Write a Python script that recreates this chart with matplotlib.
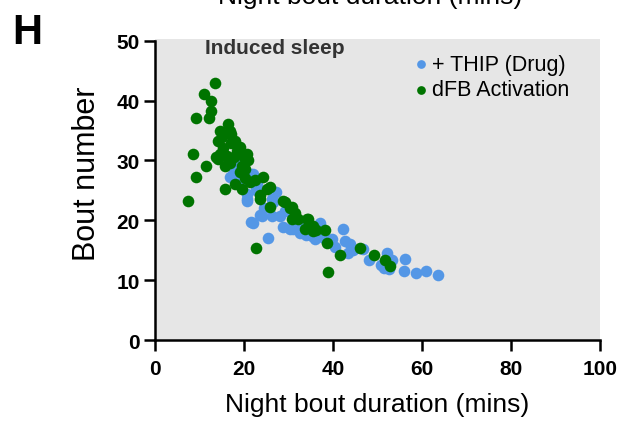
import matplotlib.pyplot as plt

plt.rcParams['font.family'] = ['Liberation Sans', 'DejaVu Sans']

# + THIP (Drug)
thip_x = [16.9, 17.5, 18.4, 18.0, 20.6, 20.6, 20.6, 21.7, 22.1, 22.8, 21.7, 22.0,
          24.0, 26.2, 23.6, 25.5, 26.2, 26.6, 27.3, 28.1, 28.8, 30.3, 31.0, 31.8,
          29.2, 33.3, 35.2, 36.0, 37.1, 39.7, 42.3, 42.7, 43.8, 43.4, 46.8, 48.2,
          50.9, 52.1, 53.2, 56.2, 55.9, 58.7, 61.0, 63.5, 26.6, 24.5, 34.0, 38.0,
          40.5, 19.5, 23.0, 51.5, 52.5, 32.5, 44.5]
thip_y = [27.2, 27.8, 29.4, 29.0, 24.4, 23.3, 23.6, 27.8, 27.8, 25.0, 19.7, 19.6,
          20.8, 20.8, 20.9, 17.0, 23.6, 23.0, 24.7, 20.8, 18.8, 18.5, 18.5, 18.5,
          21.6, 19.1, 17.4, 16.9, 19.6, 16.9, 18.6, 16.6, 16.1, 14.5, 15.2, 13.3,
          12.5, 14.6, 13.3, 13.6, 11.6, 11.2, 11.6, 10.9, 23.3, 22.0, 17.5, 17.0,
          15.5, 26.5, 26.0, 12.0, 11.8, 17.8, 15.0]

# dFB Activation
dfb_x = [7.5, 8.5, 9.2, 9.3, 11.0, 11.5, 12.2, 12.6, 12.7, 13.5, 14.6, 16.5,
         17.2, 16.9, 18.0, 14.2, 19.1, 14.6, 16.1, 20.6, 14.2, 21.0, 15.7, 19.5,
         19.1, 24.3, 21.3, 22.5, 25.8, 15.7, 19.5, 25.1, 23.6, 25.8, 29.2, 30.3,
         31.5, 30.9, 34.1, 33.7, 35.6, 22.7, 32.2, 34.5, 35.6, 36.3, 38.3, 38.6,
         39.0, 41.6, 46.1, 49.2, 51.7, 52.8, 23.6, 28.8, 30.7, 15.2, 17.8, 18.5,
         16.8, 20.0, 15.0, 13.8, 17.0, 20.3, 18.0, 20.2]
dfb_y = [23.2, 31.1, 37.1, 27.2, 41.1, 29.1, 37.1, 38.2, 40.0, 43.0, 35.0, 36.1,
         34.4, 35.0, 33.3, 33.3, 32.2, 31.1, 30.8, 31.1, 30.2, 30.0, 29.1, 29.1,
         28.0, 27.2, 26.4, 26.7, 25.5, 25.2, 25.2, 25.2, 23.6, 22.2, 23.1, 22.0,
         21.2, 20.2, 20.2, 18.5, 18.2, 15.3, 20.2, 20.3, 19.1, 18.3, 18.3, 16.2,
         11.3, 14.2, 15.3, 14.2, 13.3, 12.3, 24.2, 23.2, 22.2, 32.0, 30.5, 31.5,
         29.5, 30.5, 34.0, 30.5, 33.0, 28.5, 26.0, 27.0]

fig = plt.figure(figsize=(6.27, 4.27), dpi=100)
ax = fig.add_axes([0.247, 0.2014, 0.71, 0.705])
ax.set_facecolor('#e6e6e6')

ax.scatter(thip_x, thip_y, s=70, color='#5497e6', linewidths=0, label='+ THIP (Drug)')
ax.scatter(dfb_x, dfb_y, s=70, color='#007400', linewidths=0, label='dFB Activation')

ax.set_xlim(0, 100)
ax.set_ylim(0, 50.3)
ax.set_xticks(range(0, 101, 20))
ax.set_yticks(range(0, 51, 10))
for s in ['top', 'right']:
    ax.spines[s].set_visible(False)
for s in ['left', 'bottom']:
    ax.spines[s].set_linewidth(1.8)
ax.spines['left'].set_bounds(0, 50)
ax.tick_params(width=1.8, length=8, labelsize=15)
ax.tick_params(axis='x', pad=6)
ax.tick_params(axis='y', pad=3)
for lab in ax.get_xticklabels() + ax.get_yticklabels():
    lab.set_fontweight('bold')

fig.text(0.601, 0.0515, 'Night bout duration (mins)', fontsize=19,
         ha='center', va='center')
fig.text(0.139, 0.592, 'Bout number', fontsize=22, rotation=90,
         ha='center', va='center')

ax.text(11.2, 48.8, 'Induced sleep', fontsize=15, fontweight='bold',
        color='#333333', va='center')

leg = ax.legend(loc='upper left', bbox_to_anchor=(0.584, 0.95), frameon=False,
                fontsize=15.5, markerscale=0.75, handlelength=0.6,
                handletextpad=0.2, borderpad=0, borderaxespad=0,
                labelspacing=0.2, scatterpoints=1)

fig.text(0.02, 0.923, 'H', fontsize=30, fontweight='bold', va='center')
fig.text(0.59, 0.99, 'Night bout duration (mins)', fontsize=19, ha='center',
         va='baseline')

fig.savefig('out.png', dpi=100)
